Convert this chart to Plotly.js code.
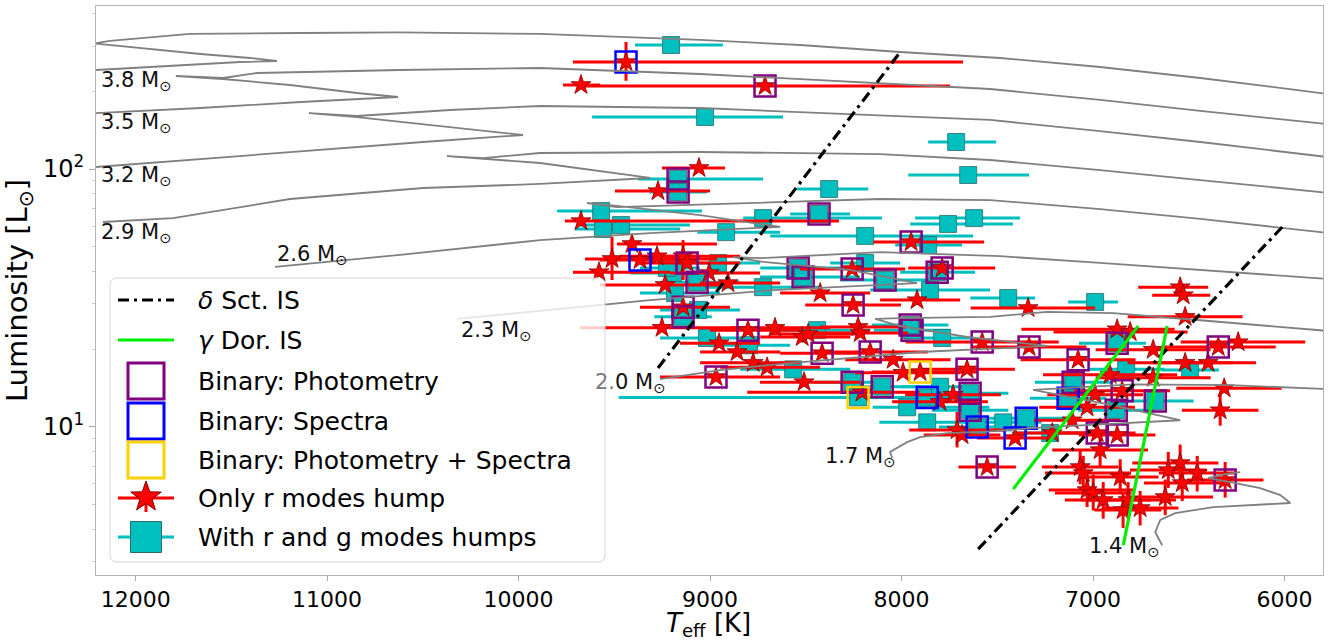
<!DOCTYPE html>
<html><head><meta charset="utf-8">
<script src="https://cdn.plot.ly/plotly-3.0.1.min.js"></script>
<style>html,body{margin:0;padding:0;background:#fff}#plot{width:1333px;height:643px}</style>
</head><body><div id="plot"></div>
<script>
// ---------- DATA ----------
// Only r modes hump (red stars)
const starTeff = [9439,9674,8713,9058,9272,9674,7950,9408,9512,9366,9277,9141,9580,9235,9120,9005,8906,8258,8425,7919,7788,6545,6529,9141,9251,8953,8859,8802,8661,8519,8488,8415,8775,8702,8969,8509,8206,8227,8216,8164,8044,7992,7903,8253,7339,6519,6874,6806,6686,6346,6242,7579,7334,7078,6519,6399,6911,6315,6686,7658,6989,7031,6848,6336,7407,7213,7109,6978,6874,6963,7553,7067,7051,6858,6607,6545,6534,6456,7031,6999,6947,6843,6754,6623,6310,7731,7799,7710,7684,6817];
const starLum  = [260,212,210,101,82.1,62.8,52.1,51.2,44.8,44.4,45.9,45.9,39.8,35.5,43.2,39.5,36.1,40.9,33.0,31.0,41.3,34.8,32.4,29.1,24.2,21.1,19.5,23.7,24.2,22.3,22.9,19.3,17.7,17.0,15.6,14.9,13.6,24.4,23.1,19.5,18.2,16.2,16.3,29.7,28.9,26.7,23.9,23.3,19.9,20.4,21.3,21.3,20.4,18.2,17.7,17.7,15.9,14.1,15.5,16.7,13.3,11.9,13.8,11.6,9.04,9.45,10.6,9.45,9.29,8.12,6.98,6.98,6.61,6.38,6.79,7.23,6.05,6.61,5.68,5.53,5.20,4.75,4.84,5.34,6.21,13.3,12.5,9.71,9.29,5.20];
const starErrHot  = [277,94,966,193,225,84,198,78,141,209,193,225,136,339,245,204,146,272,209,193,177,219,162,225,428,204,193,198,235,219,198,219,277,245,292,230,600,200,250,250,250,250,250,250,300,300,500,400,300,300,300,400,300,300,300,300,350,250,300,250,250,250,250,200,200,200,200,200,200,250,150,200,200,200,200,250,200,200,200,200,200,150,200,200,200,250,250,250,200,250];
const starErrCool = [1760,99,966,136,272,1347,381,444,548,261,225,298,371,287,277,266,272,277,261,225,277,146,141,245,444,214,225,272,287,251,272,251,245,277,334,292,300,250,250,300,300,300,300,250,350,300,300,300,300,300,350,400,300,300,250,250,350,300,300,250,250,250,250,200,200,250,250,200,200,250,150,200,250,200,200,200,200,200,250,200,250,200,200,250,200,250,250,250,200,250];
const starErrUp   = [51,0,0,0,0,0,0,0,9.7,0,0,7.1,0,0,0,0,0,0,0,0,0,0,0,0,0,0,0,0,0,0,0,0,0,0,0,0,0,0,0,0,0,0,0,0,0,0,0,0,0,0,0,0,0,0,0,0,0,0,0,0,0,0,0,1.8,0,0,0,0,0,1.3,0,1.2,1.1,1.1,1.2,1.3,1.0,1.1,1.0,1.0,0.9,0.8,0.8,0.9,1.1,0,0,1.7,0,0.9];
const starErrDown = [40,0,0,0,0,0,0,0,7.7,0,0,8.8,0,0,0,0,0,0,0,0,0,0,0,0,0,0,0,0,0,0,0,0,0,0,0,0,0,0,0,0,0,0,0,0,0,0,0,0,0,0,0,0,0,0,0,0,0,0,0,0,0,0,0,1.5,0,0,0,0,0,1.1,0,1.0,1.0,0.9,1.0,1.1,0.9,1.0,0.8,0.8,0.8,0.7,0.7,0.8,0.9,0,0,1.4,0,0.8];

// With r and g modes humps (cyan squares)
const sqTeff = [9204,9026,7715,7652,9167,9167,8378,9569,9559,9465,8723,8431,8916,8190,7757,7621,7861,9068,8958,8723,8540,8514,8086,8190,7851,7814,7443,6989,9193,9183,9225,9063,9141,9016,8796,8441,8566,8258,8227,8101,7971,7945,7955,7788,6874,6493,6827,7104,7130,6675,6879,7866,7642,7642,7605,7469,7349,7224,7866,7799];
const sqLum  = [302.8,159.1,127.3,94.8,91.5,81.4,83.6,68.7,58.5,60.6,64.5,66.9,56.9,55.0,61.2,64.5,50.7,36.4,43.2,34.8,41.3,38.1,37.1,43.2,33.9,39.8,31.6,30.5,39.5,33.0,41.3,28.4,26.7,22.1,20.7,23.7,16.7,14.9,13.0,14.3,11.9,23.7,24.8,22.1,21.1,16.6,16.7,14.9,12.9,12.6,11.6,13.0,13.5,11.6,9.97,10.4,10.8,9.45,10.4,14.3];
const sqErrHot  = [188,590,146,313,209,150,167,230,146,214,104,151,151,496,198,308,172,193,198,329,198,225,235,183,313,193,198,141,225,183,141,198,150,245,151,193,277,200,1250,200,180,200,200,200,200,150,200,200,200,200,200,200,200,200,200,200,200,200,250,200];
const sqErrCool = [271,407,209,318,444,150,204,527,402,360,621,162,282,564,339,240,177,224,219,298,219,298,235,183,313,198,141,120,245,235,172,219,150,277,214,277,298,200,400,200,430,200,200,150,150,150,200,200,200,200,200,200,200,200,200,200,200,200,250,200];

// Binary flags (open squares)
const binPhotTeff = [8713,9167,9167,8431,7950,9120,9068,8540,8514,8258,8086,7788,7814,9141,9141,8802,8415,8969,8258,8101,8164,8253,7945,7955,6874,6346,7579,7334,7078,7104,6675,6879,7658,6848,7642,7642,6978,6874,7553,6310];
const binPhotLum  = [210,91.5,81.4,66.9,52.1,43.2,36.4,41.3,38.1,40.9,37.1,41.3,39.8,29.1,26.7,23.7,19.3,15.6,14.9,14.3,19.5,29.7,23.7,24.8,21.1,20.4,21.3,20.4,18.2,14.9,12.6,11.6,16.7,13.8,13.5,11.6,9.45,9.29,6.98,6.21];
const binSpecTeff = [9439,9366,7130,7866,7605,7349,7407];
const binSpecLum  = [260,44.4,12.9,13.0,9.97,10.8,9.04];
const binBothTeff = [8227,7903];
const binBothLum  = [13.0,16.3];

// Evolutionary tracks
const trackMass = ['3.8','3.5','3.2','2.9','2.6','2.3','2.0','1.7','1.4'];
const t38Teff = [12207,11925,11661,11455,11262,11403,11661,11925,12134,12218,12134,12014,11716,11137,10619,9888,9052,8530,8007,7485,6963,6440,5761];
const t38Lum  = [242.2,248.8,255.6,260.1,262.5,269.6,279.4,292.2,301.5,306.9,313.9,319.6,334.2,337.1,338.7,334.2,316.7,302.8,284.4,269.6,248.8,225.5,195];
const t35Teff = [12207,11661,11137,10630,10844,11194,11544,11790,11544,11366,10619,9888,9052,8149,7537,6963,6440,5761];
const t35Lum  = [164.9,172.5,182.0,190.3,197.2,211.8,223.5,229.6,225.5,235.8,242.2,246.6,233.7,215.6,204.4,185.3,168.0,149];
const t32Teff = [12207,11403,10499,9977,10499,10844,11095,10844,10358,9888,9052,8112,7537,6963,6440,5761];
const t32Lum  = [101.8,113.3,127.3,135.5,149.5,159.1,164.9,160.6,169.4,175.6,172.5,162.0,155.0,140.4,127.3,111];
const t29Teff = [12171,11805,11194,10499,9888,9313,9888,10185,10374,10185,9888,9052,8112,7537,6963,6440,5761];
const t29Lum  = [62.3,64.5,76.5,84.4,87.5,92.3,105.5,109.4,112.3,110.3,115.4,116.4,114.3,108.4,99.1,90.6,80.7];
const t26Teff = [11272,10619,9888,9313,8634,9052,9486,9643,9486,8791,8112,7537,6963,6440,5761];
const t26Lum  = [41.7,46.4,53.0,56.4,59.6,66.3,71.9,73.8,71.2,73.8,76.5,75.8,69.9,64.0,56.4];
const t23Teff = [10322,9888,9313,8671,7919,8269,8723,8880,8739,8112,7485,6963,6440,5761];
const t23Lum  = [26.2,28.1,31.0,33.9,36.1,40.6,43.6,45.5,45.1,47.6,45.9,43.2,40.6,37.4];
const t20Teff = [9261,8948,8566,7903,7240,7657,8007,8138,8007,7537,7240,6895,6440,5761];
const t20Lum  = [15.3,16.6,17.7,19.5,20.6,22.3,24.6,26.2,26.4,26.7,27.9,27.6,25.9,23.5];
const t17Teff = [8049,8060,7971,7903,7762,7537,7240,6545,6895,7313,7172,6790,6283,5761];
const t17Lum  = [7.56,7.98,8.72,9.12,9.45,9.6,9.97,10.6,12.1,13.9,14.1,14.6,14.5,14.0];
const t14Teff = [6639,6675,6649,6571,6372,6127,5970,6022,6127,6283,6399,6310,6231];
const t14Lum  = [3.47,3.90,4.35,4.62,4.88,4.97,5.06,5.43,5.78,6.10,6.32,6.55,6.67];
// label anchor points for the tracks (Teff, L)
const trackLabelTeff = [11993,11993,11993,11993,11074,10113,9418,8216,6837];
const trackLabelLum  = [219.5,150.8,93.9,56.4,46.4,23.5,14.8,7.63,3.41];

// Instability strips
const dSctBlueTeff = [9272,8007], dSctBlueLum = [16.9,284];
const dSctRedTeff  = [7600,6007], dSctRedLum  = [3.35,60.1];
const gDorBlueTeff = [7417,6764], gDorBlueLum = [5.73,24.6];
const gDorRedTeff  = [6842,6613], gDorRedLum  = [3.47,24.6];

const xTicks = [12000,11000,10000,9000,8000,7000,6000];
const xTickText = ['12000','11000','10000','9000','8000','7000','6000'];
const yTicks = [10,100];
const yTickText = ['10<sup>1</sup>','10<sup>2</sup>'];
const xTitle = '<i>T</i><sub>eff</sub> [K]';
const yTitle = 'Luminosity [L<sub>⊙</sub>]';
const legendLabels = ['<i>δ</i> Sct. IS','<i>γ</i> Dor. IS','Binary: Photometry','Binary: Spectra','Binary: Photometry + Spectra','Only r modes hump','With r and g modes humps'];

// ---------- STYLE / LAYOUT ----------
const W=1333,H=643,M={l:96,r:10,t:6,b:68};
const PW=W-M.l-M.r, PH=H-M.t-M.b;
const px=x=>(x-M.l)/PW, py=y=>1-(y-M.t)/PH;
const RED='#ff0000', CYAN='#00bfbf', GRAY='#808080';
const FONT='DejaVu Sans';

const traces=[];
traces.push({x:sqTeff,y:sqLum,type:'scatter',mode:'markers',hoverinfo:'skip',
  error_x:{type:'data',symmetric:false,array:sqErrHot,arrayminus:sqErrCool,color:CYAN,thickness:3,width:0},
  marker:{symbol:'square',size:17,color:CYAN,line:{color:'#2d6b6b',width:0.8}}});
traces.push({x:starTeff,y:starLum,type:'scatter',mode:'markers',hoverinfo:'skip',
  error_x:{type:'data',symmetric:false,array:starErrHot,arrayminus:starErrCool,color:RED,thickness:3,width:0},
  error_y:{type:'data',symmetric:false,array:starErrUp,arrayminus:starErrDown,color:RED,thickness:3,width:0},
  marker:{symbol:'star',size:15,color:RED,line:{color:'#800000',width:0.8}}});
[[binPhotTeff,binPhotLum,'#800080'],[binSpecTeff,binSpecLum,'#0000ff'],[binBothTeff,binBothLum,'#ffd000']].forEach(b=>{
  traces.push({x:b[0],y:b[1],type:'scatter',mode:'markers',hoverinfo:'skip',
    marker:{symbol:'square-open',size:21,color:b[2],line:{width:2.5,color:b[2]}}});
});
const tracks=[[t38Teff,t38Lum],[t35Teff,t35Lum],[t32Teff,t32Lum],[t29Teff,t29Lum],[t26Teff,t26Lum],[t23Teff,t23Lum],[t20Teff,t20Lum],[t17Teff,t17Lum],[t14Teff,t14Lum]];
tracks.forEach(t=>traces.push({x:t[0],y:t[1],type:'scatter',mode:'lines',hoverinfo:'skip',line:{color:GRAY,width:1.8}}));
const DD='11px,5px,3px,5px';
traces.push({x:dSctBlueTeff,y:dSctBlueLum,mode:'lines',type:'scatter',line:{color:'#000',width:3.2,dash:DD},hoverinfo:'skip'});
traces.push({x:dSctRedTeff,y:dSctRedLum,mode:'lines',type:'scatter',line:{color:'#000',width:3.2,dash:DD},hoverinfo:'skip'});
traces.push({x:gDorBlueTeff,y:gDorBlueLum,mode:'lines',type:'scatter',line:{color:'#00ee00',width:3.2},hoverinfo:'skip'});
traces.push({x:gDorRedTeff,y:gDorRedLum,mode:'lines',type:'scatter',line:{color:'#00ee00',width:3.2},hoverinfo:'skip'});

// legend (manual) ---------------------------------
const shapes=[];
function rr(x0,y0,x1,y1,r){
  const X=px, Y=py;
  return `M${X(x0+r)},${Y(y0)} L${X(x1-r)},${Y(y0)} Q${X(x1)},${Y(y0)} ${X(x1)},${Y(y0+r)} L${X(x1)},${Y(y1-r)} Q${X(x1)},${Y(y1)} ${X(x1-r)},${Y(y1)} L${X(x0+r)},${Y(y1)} Q${X(x0)},${Y(y1)} ${X(x0)},${Y(y1-r)} L${X(x0)},${Y(y0+r)} Q${X(x0)},${Y(y0)} ${X(x0+r)},${Y(y0)} Z`;
}
shapes.push({type:'path',xref:'paper',yref:'paper',path:rr(110,278,605,562,7),fillcolor:'rgba(255,255,255,0.8)',line:{color:'#d6d6d6',width:1},layer:'above'});
const rowY=[300,340,381,421,460,498,537];
const lx0=118,lx1=174,lxc=146;
function hline(y,color,dash){shapes.push({type:'line',xref:'paper',yref:'paper',x0:px(lx0),x1:px(lx1),y0:py(y),y1:py(y),line:{color:color,width:3.2,dash:dash||'solid'},layer:'above'});}
hline(rowY[0],'#000',DD);
hline(rowY[1],'#00ee00');
['#800080','#0000ff','#ffd000'].forEach((c,i)=>{const y=rowY[2+i];
  shapes.push({type:'rect',xref:'paper',yref:'paper',x0:px(lxc-18),x1:px(lxc+18),y0:py(y-18),y1:py(y+18),line:{color:c,width:3},layer:'above'});});
hline(rowY[5],RED);
shapes.push({type:'line',xref:'paper',yref:'paper',x0:px(lxc),x1:px(lxc),y0:py(rowY[5]-14),y1:py(rowY[5]+14),line:{color:RED,width:3},layer:'above'});
(function(){const cx=lxc,cy=rowY[5]-1,R=16,r=R*0.4;let p='';
  for(let k=0;k<10;k++){const a=-Math.PI/2+k*Math.PI/5,rad=k%2?r:R;const x=cx+rad*Math.cos(a),y=cy+rad*Math.sin(a);p+=(k?'L':'M')+px(x)+','+py(y)+' ';}
  shapes.push({type:'path',xref:'paper',yref:'paper',path:p+'Z',fillcolor:RED,line:{color:'#800000',width:1},layer:'above'});})();
hline(rowY[6],CYAN);
shapes.push({type:'rect',xref:'paper',yref:'paper',x0:px(lxc-15.5),x1:px(lxc+15.5),y0:py(rowY[6]-15.5),y1:py(rowY[6]+15.5),fillcolor:CYAN,line:{color:'#2d6b6b',width:1},layer:'above'});

const annotations=[];
legendLabels.forEach((t,i)=>annotations.push({xref:'paper',yref:'paper',x:px(196),y:py(rowY[i]),text:t,showarrow:false,xanchor:'left',yanchor:'middle',font:{family:FONT,size:25,color:'#000'}}));
trackMass.forEach((m,i)=>{
  let txt=m+' M<sub>⊙</sub>';
  if(m==='2.0') txt='<span style="color:#7a7a7a">2.</span>0 M<sub>⊙</sub>';
  annotations.push({xref:'x',yref:'y',x:trackLabelTeff[i],y:Math.log10(trackLabelLum[i]),text:txt,showarrow:false,xanchor:'center',yanchor:'middle',font:{family:FONT,size:21,color:'#111'}});
});
// x-axis title placed below the tick labels
annotations.push({xref:'paper',yref:'paper',x:px(708),y:py(624),text:xTitle,showarrow:false,xanchor:'center',yanchor:'middle',font:{family:FONT,size:26,color:'#000'}});

const layout={
  width:W,height:H,margin:M,paper_bgcolor:'#fff',plot_bgcolor:'#fff',showlegend:false,
  font:{family:FONT,color:'#000'},
  xaxis:{range:[12207,5799],tickmode:'array',tickvals:xTicks,ticktext:xTickText,ticks:'outside',ticklen:5,tickcolor:'#aaa',tickwidth:1,
    tickfont:{family:FONT,size:22},showgrid:false,zeroline:false,showline:true,mirror:true,linecolor:'#b5b5b5',linewidth:1},
  yaxis:{type:'log',range:[Math.log10(2.66),Math.log10(429)],tickmode:'array',tickvals:yTicks,ticktext:yTickText,ticks:'outside',ticklen:6,tickcolor:'#aaa',
    tickfont:{family:FONT,size:24},showgrid:false,zeroline:false,showline:true,mirror:true,linecolor:'#b5b5b5',linewidth:1,
    minor:{tickmode:'array',tickvals:[3,4,5,6,7,8,9,20,30,40,50,60,70,80,90,200,300,400],ticks:'outside',ticklen:3,tickcolor:'#ccc',showgrid:false},
    title:{text:yTitle,font:{family:FONT,size:29},standoff:8}},
  shapes:shapes,annotations:annotations
};
Plotly.newPlot('plot',traces,layout,{staticPlot:true,displayModeBar:false});
</script></body></html>
